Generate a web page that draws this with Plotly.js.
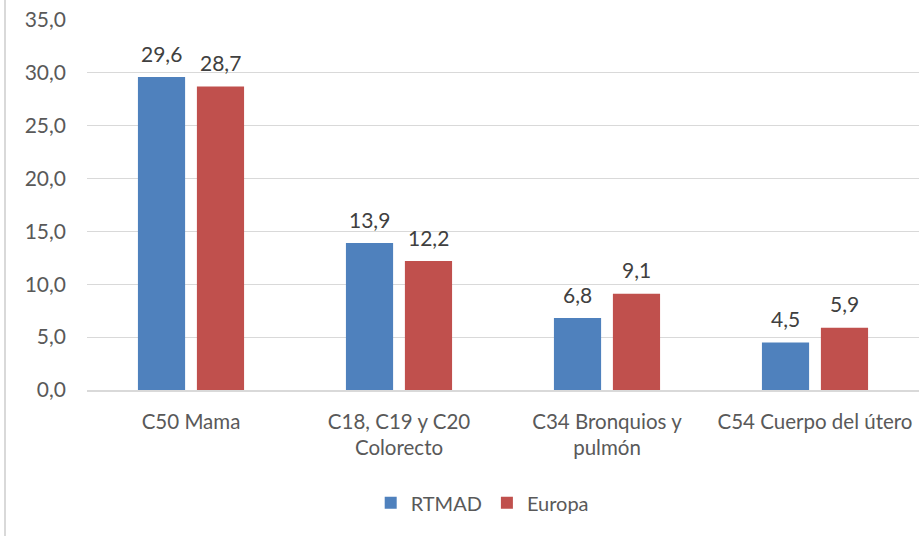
<!DOCTYPE html>
<html><head><meta charset="utf-8">
<script src="https://cdn.plot.ly/plotly-3.0.1.min.js"></script>
<style>html,body{margin:0;padding:0;background:#fff}
#frame{position:absolute;left:4px;top:0;width:2px;height:536px;background:#d9d9d9}
#chart{width:920px;height:536px}</style>
</head><body><div id="chart"></div><div id="frame"></div>
<script>
const categories = ["C50 Mama", "C18, C19 y C20<br>Colorecto", "C34 Bronquios y<br>pulmón", "C54 Cuerpo del útero"];
const rtmad = [29.6, 13.9, 6.8, 4.5];
const europa = [28.7, 12.2, 9.1, 5.9];
const yTicks = [0, 5, 10, 15, 20, 25, 30, 35];

const font = "Lato, 'Open Sans', sans-serif";
const mk = (name, y, color) => ({
  type: 'bar', name, x: categories, y,
  marker: {color},
  hoverinfo: 'skip'
});
const fmt = v => v.toFixed(1).replace('.', ',');
const annotations = [];
[[rtmad, -29.5], [europa, 29.5]].forEach(([vals, dx]) => {
  vals.forEach((v, i) => annotations.push({
    x: categories[i], y: v, xref: 'x', yref: 'y', text: fmt(v), showarrow: false,
    xshift: dx, yanchor: 'middle', yshift: 24,
    font: {family: font, size: 21, color: '#404040'}
  }));
});
Plotly.newPlot('chart', [mk('RTMAD', rtmad, '#4F81BD'), mk('Europa', europa, '#C0504D')], {
  width: 920, height: 536,
  margin: {l: 87, r: 1, t: 20, b: 146},
  separators: ',.',
  barmode: 'group', bargap: 0.433, bargroupgap: 0.2,
  paper_bgcolor: '#fff', plot_bgcolor: '#fff',
  font: {family: font, size: 20, color: '#595959'},
  annotations,
  xaxis: {showgrid: false, showline: true, linecolor: '#d9d9d9', linewidth: 2, ticks: '',
          tickfont: {family: font, size: 20.5, color: '#595959'}, ticklabelstandoff: 12},
  yaxis: {range: [0, 35], tickvals: yTicks, tickformat: '.1f', showgrid: true, gridcolor: '#d9d9d9',
          gridwidth: 1, zeroline: false, showline: false, ticks: '', ticklabelstandoff: 20,
          tickfont: {family: font, size: 21, color: '#595959'}},
  showlegend: true,
  legend: {orientation: 'h', x: 0.475, xanchor: 'center', y: -0.305, yanchor: 'middle',
           font: {family: font, size: 20, color: '#595959'}, itemwidth: 30, traceorder: 'normal'}
}, {displayModeBar: false, staticPlot: true});
</script></body></html>
